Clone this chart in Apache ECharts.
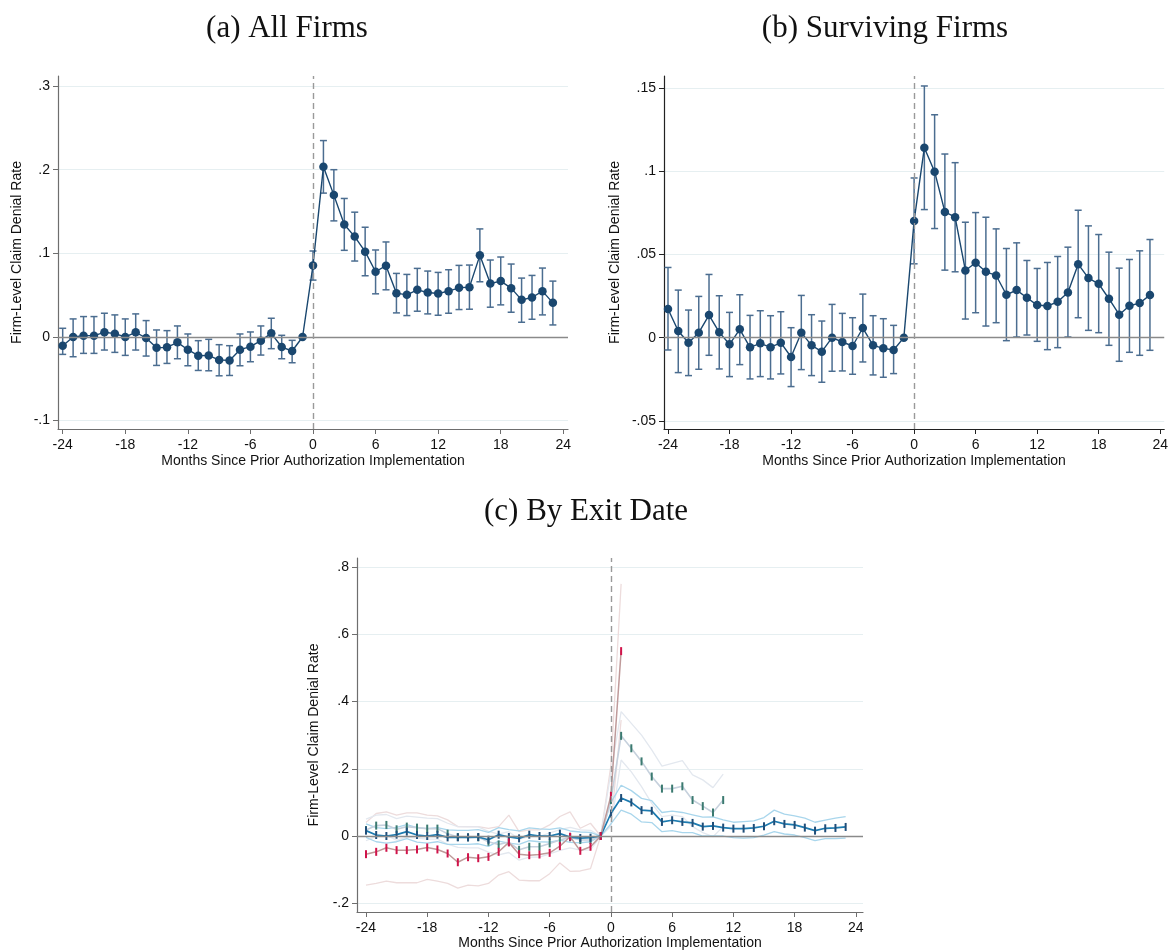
<!DOCTYPE html>
<html>
<head>
<meta charset="utf-8">
<script src="https://cdn.jsdelivr.net/npm/echarts@6/dist/echarts.min.js"></script>
<style>
  html, body { margin: 0; padding: 0; background: #fff; }
  #chart { width: 1171px; height: 951px; }
</style>
</head>
<body>
<div id="chart"></div>
<script>
// months relative to prior authorization start
const months = [-24, -23, -22, -21, -20, -19, -18, -17, -16, -15, -14, -13, -12, -11, -10, -9, -8, -7, -6, -5, -4, -3, -2, -1,
  0, 1, 2, 3, 4, 5, 6, 7, 8, 9, 10, 11, 12, 13, 14, 15, 16, 17, 18, 19, 20, 21, 22, 23]
const xTicks = [-24, -18, -12, -6, 0, 6, 12, 18, 24]

// (a) all firms
const allEst = [-0.0104, 0.0, 0.0016, 0.0016, 0.0056, 0.004, 0.0, 0.0056, -0.0012, -0.0128, -0.0124, -0.0064, -0.0152, -0.0224, -0.022, -0.0276, -0.028, -0.0152, -0.0116, -0.0044, 0.0044, -0.012, -0.0168, 0,
  0.0856, 0.2036, 0.1696, 0.1344, 0.12, 0.102, 0.078, 0.0852, 0.0524, 0.0504, 0.0564, 0.0532, 0.052, 0.0548, 0.0588, 0.0596, 0.0976, 0.064, 0.0668, 0.0584, 0.0444, 0.0472, 0.0548, 0.0408]
const allHi = [0.0104, 0.0216, 0.0244, 0.0244, 0.0284, 0.0264, 0.0216, 0.0276, 0.0196, 0.0084, 0.0076, 0.0132, 0.0036, -0.0044, -0.0028, -0.0092, -0.0104, 0.0036, 0.006, 0.0132, 0.0224, 0.002, -0.004, 0,
  0.1028, 0.2348, 0.2, 0.1656, 0.1492, 0.1312, 0.104, 0.1136, 0.076, 0.0748, 0.082, 0.0788, 0.0772, 0.0804, 0.0856, 0.086, 0.1292, 0.092, 0.0956, 0.0872, 0.0704, 0.0736, 0.0824, 0.0668]
const allLo = [-0.0208, -0.0236, -0.0196, -0.0196, -0.0156, -0.0184, -0.022, -0.0156, -0.0228, -0.034, -0.0316, -0.026, -0.0344, -0.04, -0.0404, -0.0464, -0.046, -0.0344, -0.0296, -0.0216, -0.014, -0.026, -0.0308, 0,
  0.068, 0.172, 0.1388, 0.1036, 0.0908, 0.0732, 0.0516, 0.0564, 0.0288, 0.0256, 0.0308, 0.0276, 0.026, 0.0284, 0.0328, 0.0332, 0.066, 0.0356, 0.0384, 0.0296, 0.0176, 0.0212, 0.0264, 0.0144]

// (b) surviving firms
const survEst = [0.0172, 0.004, -0.003, 0.003, 0.0136, 0.0032, -0.004, 0.005, -0.0058, -0.0034, -0.0058, -0.003, -0.0116, 0.003, -0.0046, -0.0084, 0.0, -0.0026, -0.005, 0.0058, -0.0046, -0.0064, -0.0074, 0,
  0.0702, 0.1142, 0.0998, 0.0756, 0.0724, 0.0404, 0.045, 0.0396, 0.0374, 0.0258, 0.0286, 0.024, 0.0196, 0.019, 0.0216, 0.0272, 0.0442, 0.0358, 0.0324, 0.0234, 0.0138, 0.0192, 0.0208, 0.0256]
const survHi = [0.0422, 0.0286, 0.0166, 0.0248, 0.038, 0.0252, 0.0152, 0.0258, 0.0134, 0.0162, 0.0132, 0.0156, 0.006, 0.0254, 0.0138, 0.01, 0.02, 0.0146, 0.012, 0.0262, 0.0132, 0.0114, 0.0074, 0,
  0.096, 0.1513, 0.134, 0.1104, 0.1052, 0.0694, 0.0752, 0.0724, 0.0654, 0.0536, 0.057, 0.0464, 0.0416, 0.0452, 0.0488, 0.0544, 0.0766, 0.0672, 0.062, 0.0514, 0.0418, 0.047, 0.0522, 0.059]
const survLo = [-0.0074, -0.021, -0.0228, -0.019, -0.0106, -0.0188, -0.0234, -0.0162, -0.0248, -0.0234, -0.0248, -0.0218, -0.0294, -0.0192, -0.0228, -0.0268, -0.0202, -0.02, -0.022, -0.0146, -0.0224, -0.0238, -0.0216, 0,
  0.0444, 0.077, 0.0656, 0.0406, 0.0396, 0.0112, 0.015, 0.007, 0.009, -0.0018, 0.0004, 0.0016, -0.0022, -0.0072, -0.006, 0.0004, 0.012, 0.0044, 0.003, -0.0046, -0.0142, -0.0088, -0.0106, -0.0076]

// (c) by exit date: never exit (blue), exit within a year (green), exit right after (red)
const stayEst = [0.016, 0.003, 0.0, 0.004, 0.013, 0.003, 0.0, 0.004, -0.004, -0.004, -0.004, -0.003, -0.011, 0.004, -0.003, -0.007, 0.004, 0.0, 0.0, 0.007, -0.003, -0.006, -0.005, 0,
  0.067, 0.113, 0.100, 0.077, 0.075, 0.042, 0.047, 0.042, 0.039, 0.028, 0.030, 0.025, 0.022, 0.022, 0.024, 0.029, 0.044, 0.036, 0.033, 0.025, 0.016, 0.023, 0.024, 0.027]
const stayHi = [0.036, 0.025, 0.022, 0.026, 0.034, 0.025, 0.022, 0.025, 0.018, 0.017, 0.017, 0.019, 0.011, 0.025, 0.019, 0.015, 0.024, 0.021, 0.020, 0.024, 0.015, 0.012, 0.011, 0,
  0.100, 0.151, 0.135, 0.112, 0.105, 0.070, 0.074, 0.070, 0.063, 0.056, 0.057, 0.048, 0.041, 0.043, 0.045, 0.055, 0.077, 0.065, 0.060, 0.053, 0.041, 0.047, 0.053, 0.058]
const stayLo = [-0.004, -0.017, -0.021, -0.017, -0.008, -0.018, -0.021, -0.017, -0.025, -0.025, -0.025, -0.023, -0.031, -0.015, -0.021, -0.025, -0.014, -0.017, -0.018, -0.012, -0.019, -0.020, -0.017, 0,
  0.036, 0.077, 0.065, 0.042, 0.040, 0.013, 0.016, 0.010, 0.010, 0.000, 0.000, 0.000, -0.005, -0.006, -0.005, 0.003, 0.013, 0.006, 0.003, -0.005, -0.014, -0.008, -0.008, -0.006]

const yearMonths = months.slice(0, 36)
const yearEst = [0.018, 0.031, 0.033, 0.020, 0.028, 0.025, 0.022, 0.022, 0.007, -0.003, -0.004, -0.004, -0.017, -0.025, -0.018, -0.041, -0.032, -0.032, -0.022, -0.012, -0.004, -0.012, -0.012, 0,
  0.107, 0.298, 0.261, 0.222, 0.177, 0.141, 0.141, 0.148, 0.107, 0.089, 0.070, 0.107]
const yearHi = [0.050, 0.062, 0.064, 0.052, 0.059, 0.056, 0.053, 0.052, 0.038, 0.028, 0.027, 0.027, 0.014, 0.006, 0.013, -0.010, -0.001, -0.001, 0.009, 0.019, 0.026, 0.018, 0.017, 0,
  0.190, 0.370, 0.335, 0.300, 0.256, 0.208, 0.216, 0.224, 0.182, 0.167, 0.144, 0.184]
const yearLo = [-0.014, -0.001, 0.002, -0.012, -0.003, -0.006, -0.009, -0.009, -0.024, -0.034, -0.035, -0.035, -0.048, -0.056, -0.049, -0.072, -0.063, -0.063, -0.053, -0.043, -0.035, -0.042, -0.041, 0,
  0.030, 0.226, 0.191, 0.147, 0.097, 0.058, 0.062, 0.058, 0.028, 0.010, -0.002, 0.028]

const soonMonths = months.slice(0, 26)
const soonEst = [-0.054, -0.047, -0.035, -0.042, -0.042, -0.040, -0.034, -0.040, -0.052, -0.078, -0.063, -0.066, -0.062, -0.047, -0.019, -0.054, -0.057, -0.055, -0.050, -0.030, -0.002, -0.044, -0.032, 0,
  0.120, 0.550]
const soonHi = [0.040, 0.067, 0.072, 0.062, 0.069, 0.069, 0.062, 0.060, 0.048, 0.028, 0.028, 0.028, 0.023, 0.028, 0.062, 0.013, 0.018, 0.018, 0.033, 0.058, 0.072, 0.023, 0.038, 0,
  0.210, 0.750]
const soonLo = [-0.146, -0.141, -0.134, -0.139, -0.139, -0.139, -0.129, -0.134, -0.141, -0.155, -0.146, -0.148, -0.141, -0.116, -0.106, -0.131, -0.133, -0.133, -0.112, -0.080, -0.105, -0.104, -0.097, 0,
  0.030, 0.345]

const yTicksA = [-0.1, 0, 0.1, 0.2, 0.3]
const yTicksB = [-0.05, 0, 0.05, 0.1, 0.15]
const yTicksC = [-0.2, 0, 0.2, 0.4, 0.6, 0.8]

const sans = 'Liberation Sans, Arial, sans-serif'
const serif = '31px "Liberation Serif", serif'
const navy = '#1a476f'
const barColor = '#4b6d90'

const pair = (xs, ys) => xs.map((m, i) => [m, ys[i]])
const fmt = v => (v === 0 ? '0' : String(v).replace(/^(-?)0\./, '$1.'))

function xAxisFor(grid, min, max, axisColor, gap) {
  return {
    type: 'value', gridIndex: grid, min, max,
    name: 'Months Since Prior Authorization Implementation',
    nameLocation: 'middle', nameGap: gap,
    nameTextStyle: { fontFamily: sans, fontSize: 14, color: '#111' },
    axisLine: { onZero: false, lineStyle: { color: axisColor, width: 1.2 } },
    axisTick: { show: true, length: 5, customValues: xTicks, lineStyle: { color: axisColor } },
    axisLabel: { customValues: xTicks, margin: 9, fontFamily: sans, fontSize: 14, color: '#111' },
    splitLine: { show: false }
  }
}

function yAxisFor(grid, min, max, ticks, axisColor, gap) {
  return {
    type: 'value', gridIndex: grid, min, max,
    name: 'Firm-Level Claim Denial Rate',
    nameLocation: 'middle', nameGap: gap, nameRotate: 90,
    nameTextStyle: { fontFamily: sans, fontSize: 14, color: '#111' },
    axisLine: { show: true, onZero: false, lineStyle: { color: axisColor, width: 1.2 } },
    axisTick: { show: true, length: 5, customValues: ticks, lineStyle: { color: axisColor } },
    axisLabel: { customValues: ticks, margin: 8, fontFamily: sans, fontSize: 14, color: '#111', formatter: fmt },
    splitLine: { show: true, lineStyle: { color: '#e6eff1', width: 1 } }
  }
}

function refLines() {
  return {
    silent: true, symbol: ['none', 'none'], label: { show: false },
    data: [
      { yAxis: 0, lineStyle: { color: '#8a8a8a', type: 'solid', width: 1.3 } },
      { xAxis: 0, lineStyle: { color: '#9a9a9a', type: [6, 4], width: 1.4 } }
    ]
  }
}

function errorBars(idx, lo, hi) {
  return {
    type: 'custom', xAxisIndex: idx, yAxisIndex: idx, z: 3,
    encode: { x: 0, y: [1, 2] },
    data: months.map((m, i) => [m, lo[i], hi[i]]).filter(d => d[1] !== d[2]),
    renderItem(params, api) {
      const x = api.value(0)
      const a = api.coord([x, api.value(1)])
      const b = api.coord([x, api.value(2)])
      const w = 3.5
      const st = { stroke: barColor, lineWidth: 1.5 }
      return {
        type: 'group',
        children: [
          { type: 'line', shape: { x1: a[0], y1: a[1], x2: b[0], y2: b[1] }, style: st },
          { type: 'line', shape: { x1: a[0] - w, y1: a[1], x2: a[0] + w, y2: a[1] }, style: st },
          { type: 'line', shape: { x1: b[0] - w, y1: b[1], x2: b[0] + w, y2: b[1] }, style: st }
        ]
      }
    }
  }
}

function estLine(idx, est) {
  return {
    type: 'line', xAxisIndex: idx, yAxisIndex: idx, z: 4,
    data: pair(months, est),
    symbol: 'circle', symbolSize: 8.5,
    itemStyle: { color: navy },
    lineStyle: { color: navy, width: 1.4 },
    markLine: refLines()
  }
}

function ciLine(xs, ys, color) {
  return {
    type: 'line', xAxisIndex: 2, yAxisIndex: 2, z: 2,
    data: pair(xs, ys), symbol: 'none',
    lineStyle: { color, width: 1.3 }
  }
}

function tickLine(xs, ys, lineColor, markColor, width) {
  return {
    type: 'line', xAxisIndex: 2, yAxisIndex: 2, z: 4,
    data: pair(xs, ys),
    symbol: 'rect', symbolSize: [2, 8],
    itemStyle: { color: markColor },
    lineStyle: { color: lineColor, width }
  }
}

const chart = echarts.init(document.getElementById('chart'), null, { renderer: 'canvas' })

chart.setOption({
  animation: false,
  backgroundColor: '#fff',
  graphic: [
    { type: 'text', x: 287, y: 29, style: { text: '(a) All Firms', font: serif, fill: '#111', textAlign: 'center', textVerticalAlign: 'middle' } },
    { type: 'text', x: 885, y: 29, style: { text: '(b) Surviving Firms', font: serif, fill: '#111', textAlign: 'center', textVerticalAlign: 'middle' } },
    { type: 'text', x: 586, y: 512, style: { text: '(c) By Exit Date', font: serif, fill: '#111', textAlign: 'center', textVerticalAlign: 'middle' } }
  ],
  grid: [
    { left: 58, top: 76, width: 510, height: 353 },
    { left: 664, top: 76, width: 504, height: 353 },
    { left: 357, top: 558, width: 506, height: 354 }
  ],
  xAxis: [
    xAxisFor(0, -24.45, 24.45, '#6e6e6e', 25),
    xAxisFor(1, -24.39, 24.39, '#222', 25),
    xAxisFor(2, -24.88, 24.7, '#6e6e6e', 23)
  ],
  yAxis: [
    yAxisFor(0, -0.11, 0.312, yTicksA, '#6e6e6e', 34),
    yAxisFor(1, -0.0549, 0.1573, yTicksB, '#222', 42),
    yAxisFor(2, -0.226, 0.827, yTicksC, '#6e6e6e', 36)
  ],
  series: [
    errorBars(0, allLo, allHi),
    estLine(0, allEst),
    errorBars(1, survLo, survHi),
    estLine(1, survEst),

    // panel (c): confidence bounds first, then point estimates
    ciLine(soonMonths, soonHi, '#eddcdc'),
    ciLine(soonMonths, soonLo, '#eddcdc'),
    ciLine(yearMonths, yearHi, '#e3e8ef'),
    ciLine(yearMonths, yearLo, '#e3e8ef'),
    ciLine(months, stayHi, '#a9d6ec'),
    ciLine(months, stayLo, '#a9d6ec'),
    tickLine(yearMonths, yearEst, '#c6d1dd', '#3b7a70', 1.6),
    Object.assign(tickLine(months, stayEst, '#1d7bb0', '#1f4e79', 1.7), { markLine: refLines() }),
    tickLine(soonMonths, soonEst, '#bf9a9a', '#d0134a', 1.5)
  ]
})
</script>
</body>
</html>
